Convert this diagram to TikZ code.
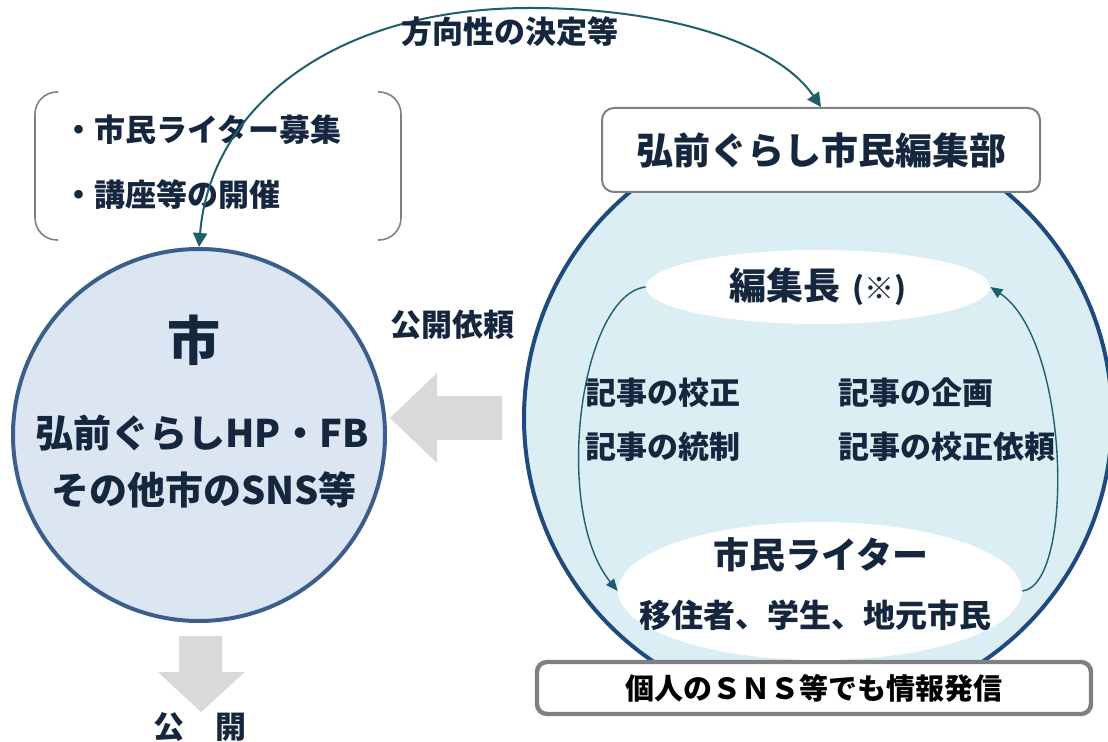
\documentclass[tikz,border=0pt]{standalone}
\usepackage{fontspec}
\setmainfont{Noto Sans CJK JP}
\usetikzlibrary{positioning,shapes.geometric,arrows.meta}

\definecolor{navy}{HTML}{15273F}
\definecolor{cityfill}{HTML}{DCE6F2}
\definecolor{cityline}{HTML}{3B5E8C}
\definecolor{deptfill}{HTML}{DBEEF4}
\definecolor{deptline}{HTML}{1F4A7E}
\definecolor{arrowteal}{HTML}{1F5F6B}
\definecolor{boxline}{HTML}{808080}
\definecolor{blockgray}{HTML}{D9D9D9}

\newcommand{\setfs}[1]{\fontsize{#1pt}{#1pt}\selectfont}

\begin{document}
\begin{tikzpicture}[x=0.5pt, y=-0.5pt,
	lbl/.style={text=navy, font=\bfseries\setfs{15.5}, inner sep=0pt},
	biglbl/.style={text=navy, font=\bfseries\setfs{19}, inner sep=0pt},
	roundbox/.style={draw=boxline, fill=white, rounded corners=6pt, inner sep=0pt},
	flow/.style={draw=arrowteal, line width=1pt, {Triangle[length=7pt,width=7pt]}-{Triangle[length=7pt,width=7pt]}},
	loop/.style={draw=arrowteal, line width=0.7pt, -{Triangle[length=6pt,width=5pt]}}]

		\useasboundingbox (0,0) rectangle (1108,742);

		% Draw the circles
		\node[circle, draw=deptline, fill=deptfill, line width=2pt, minimum size=294pt, inner sep=0pt] (dept) at (818,418) {};
		\node[circle, draw=cityline, fill=cityfill, line width=2pt, minimum size=186pt, inner sep=0pt] (city) at (199,435) {};

		% Draw the boxes
		\node[roundbox, line width=1pt, minimum width=219pt, minimum height=42pt, text=navy, font=\bfseries\setfs{18.5}] (board) at (821,150) {弘前ぐらし市民編集部};
		\node[roundbox, line width=2.2pt, rounded corners=5pt, minimum width=277pt, minimum height=26pt, font=\bfseries\setfs{14.5}] (personal) at (814,688) {個人のＳＮＳ等でも情報発信};

		% Draw the ellipses
		\node[ellipse, fill=white, minimum width=172pt, minimum height=37pt, inner sep=0pt, text=navy, font=\bfseries\setfs{18.5}] (chief) at (818,287) {編集長\hspace{6pt}{\setfs{15}(※)}};
		\node[ellipse, fill=white, minimum width=202pt, minimum height=69pt, inner sep=0pt] (writers) at (820,591) {};
		\node[text=navy, font=\bfseries\setfs{18}, inner sep=0pt] (writerstitle) at (821,555) {市民ライター};
		\node[lbl, font=\bfseries\setfs{16}] (writerskind) at (815,615) {移住者、学生、地元市民};

		% Place the task labels
		\node[lbl, anchor=west] (proofread) at (585,393) {記事の校正};
		\node[lbl, anchor=west] (control) at (585,447) {記事の統制};
		\node[lbl, anchor=west] (plan) at (838,393) {記事の企画};
		\node[lbl, anchor=west] (request) at (838,447) {記事の校正依頼};

		% Loop between chief and writers
		\draw[loop] (chief.west) .. controls (580,295) and (552,510) .. (writers.west);
		\draw[loop] (writers.east) .. controls (1075,585) and (1070,340) .. (chief.east);

		% City texts
		\node[text=navy, font=\bfseries\setfs{26.5}, inner sep=0pt] (citytitle) at (194,340) {市};
		\node[biglbl] (cityweb) at (202,433) {弘前ぐらしHP・FB};
		\node[biglbl] (citysns) at (204,490) {その他市のSNS等};

		% Bracket with the city tasks
		\draw[boxline, line width=0.8pt, rounded corners=11pt] (58,92) -- (35,92) -- (35,240) -- (58,240);
		\draw[boxline, line width=0.8pt, rounded corners=11pt] (378,92) -- (401,92) -- (401,240) -- (378,240);
		\node[lbl, anchor=west] (recruit) at (63,130) {・市民ライター募集};
		\node[lbl, anchor=west] (course) at (63,195) {・講座等の開催};

		% Block arrows
		\fill[blockgray] (502,396) -- (437,396) -- (437,373) -- (390,418) -- (437,463) -- (437,440) -- (502,440) -- cycle;
		\fill[blockgray] (179,636) -- (222,636) -- (222,672) -- (245,672) -- (201,712) -- (158,672) -- (179,672) -- cycle;
		\node[lbl] (requestlabel) at (452,325) {公開依頼};
		\node[lbl] (publish) at (200,727) {公　開};

		% Direction arrow
		\draw[flow] (city.north) .. controls (210,110) and (330,8) .. (530,8) .. controls (660,8) and (775,40) .. (board.north);
		\node[lbl] (direction) at (510,32) {方向性の決定等};

	\end{tikzpicture}
\end{document}
